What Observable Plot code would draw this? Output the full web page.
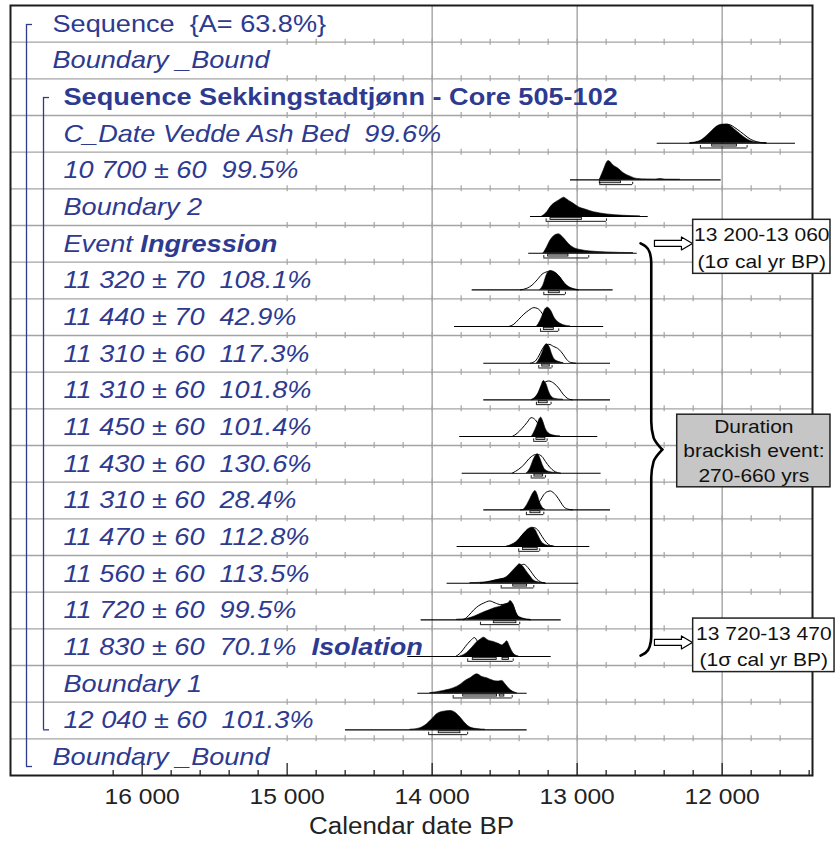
<!DOCTYPE html>
<html>
<head>
<meta charset="utf-8">
<script src="https://cdn.jsdelivr.net/npm/d3@7"></script>
<script src="https://cdn.jsdelivr.net/npm/@observablehq/plot@0.6"></script>
<style>
  body { margin: 0; background: #fff; }
  #chart svg text { white-space: pre; }
</style>
</head>
<body>
<div id="chart"></div>
<script>
// ---- Row labels of the OxCal model (top to bottom) ----
const rowLabels = [
  "Sequence  {A= 63.8%}",
  "Boundary _Bound",
  "Sequence Sekkingstadtjønn - Core 505-102",
  "C_Date Vedde Ash Bed  99.6%",
  "10 700 ± 60  99.5%",
  "Boundary 2",
  "Event",
  "11 320 ± 70  108.1%",
  "11 440 ± 70  42.9%",
  "11 310 ± 60  117.3%",
  "11 310 ± 60  101.8%",
  "11 450 ± 60  101.4%",
  "11 430 ± 60  130.6%",
  "11 310 ± 60  28.4%",
  "11 470 ± 60  112.8%",
  "11 560 ± 60  113.5%",
  "11 720 ± 60  99.5%",
  "11 830 ± 60  70.1%",
  "Boundary 1",
  "12 040 ± 60  101.3%",
  "Boundary _Bound"
];
// nesting level: 0 = outer sequence, 1 = core sequence
const rowLevel = [0, 0, 1, 1, 1, 1, 1, 1, 1, 1, 1, 1, 1, 1, 1, 1, 1, 1, 1, 1, 0];
// event names appended in bold to a row label
const rowTag = ["", "", "", "", "", "", "Ingression", "", "", "", "", "", "", "", "", "", "", "Isolation", "", "", ""];

// ---- Probability distributions: [cal BP, relative probability] ----
const veddePost   = [[12220,0],[12150,0.12],[12105,0.38],[12069,0.65],[12035,0.88],[12000,0.98],[11965,0.99],[11920,0.77],[11874,0.47],[11828,0.21],[11770,0.04],[11690,0]];
const veddePrior  = [[12220,0],[12150,0.12],[12105,0.38],[12069,0.65],[12035,0.88],[12000,0.98],[11962,1.0],[11897,0.74],[11851,0.47],[11805,0.21],[11759,0.07],[11700,0]];
const d10700Post  = [[12844,0],[12817,0.49],[12793,0.93],[12783,1.0],[12748,0.75],[12713,0.58],[12679,0.35],[12632,0.17],[12586,0.05],[12517,0.02],[12460,0.01],[12425,0.04],[12391,0.005],[12288,0]];
const bound2Post  = [[13241,0],[13207,0.23],[13184,0.49],[13161,0.67],[13127,0.84],[13100,0.97],[13092,1.0],[13058,0.84],[13023,0.67],[12989,0.49],[12943,0.37],[12885,0.23],[12793,0.11],[12679,0.04],[12564,0]];
const eventPost   = [[13230,0],[13207,0.32],[13184,0.67],[13161,0.89],[13127,1.0],[13092,0.79],[13058,0.49],[13023,0.28],[12977,0.17],[12908,0.09],[12793,0.04],[12612,0]];
const d11320Prior = [[13391,0],[13345,0.09],[13311,0.25],[13276,0.53],[13242,0.83],[13207,0.96],[13185,1.0],[13173,0.97],[13138,0.83],[13104,0.5],[13069,0.2],[13035,0.05],[12991,0]];
const d11320Post  = [[13253,0],[13230,0.30],[13219,0.56],[13203,0.88],[13180,1.0],[13150,0.91],[13115,0.65],[13081,0.30],[13046,0.11],[13000,0]];
const d11440Prior = [[13472,0],[13437,0.12],[13403,0.38],[13368,0.65],[13334,0.86],[13299,1.0],[13272,0.95],[13242,0.70],[13219,0.38],[13196,0.12],[13173,0]];
const d11440Post  = [[13276,0],[13253,0.30],[13234,0.65],[13219,0.91],[13203,1.0],[13180,0.83],[13157,0.47],[13127,0.21],[13093,0.07],[13046,0]];
const d11310aPrior = [[13322,0],[13288,0.12],[13265,0.38],[13241,0.74],[13219,0.95],[13196,1.0],[13161,0.88],[13127,0.74],[13097,0.47],[13074,0.21],[13046,0.04],[13012,0]];
const d11310aPost  = [[13276,0],[13253,0.30],[13234,0.65],[13219,0.95],[13207,1.0],[13189,0.83],[13173,0.47],[13157,0.21],[13127,0.07],[13093,0]];
const d11310bPrior = [[13311,0],[13288,0.12],[13265,0.38],[13246,0.74],[13219,0.95],[13196,1.0],[13161,0.88],[13127,0.62],[13097,0.30],[13069,0.09],[13035,0]];
const d11310bPost  = [[13311,0],[13288,0.12],[13265,0.38],[13246,0.74],[13230,1.0],[13212,0.83],[13196,0.47],[13180,0.21],[13150,0.05],[13095,0]];
const d11450Prior = [[13448,0],[13414,0.17],[13379,0.44],[13345,0.75],[13317,1.0],[13288,0.88],[13265,0.62],[13239,0.30],[13212,0.08],[13184,0]];
const d11450Post  = [[13311,0],[13288,0.35],[13272,0.65],[13258,0.93],[13248,1.0],[13234,0.79],[13219,0.44],[13196,0.17],[13161,0.05],[13115,0]];
const d11430Prior = [[13448,0],[13403,0.21],[13368,0.44],[13334,0.75],[13299,0.96],[13276,1.0],[13242,0.88],[13219,0.62],[13189,0.32],[13161,0.12],[13115,0]];
const d11430Post  = [[13345,0],[13322,0.26],[13304,0.62],[13288,0.88],[13272,1.0],[13253,0.75],[13238,0.44],[13219,0.17],[13184,0.05],[13138,0]];
const d11310cPrior = [[13391,0],[13322,0.05],[13288,0.2],[13253,0.51],[13230,0.81],[13203,0.97],[13184,1.0],[13173,0.96],[13143,0.74],[13115,0.42],[13092,0.16],[13065,0.04],[13033,0]];
const d11310cPost  = [[13368,0],[13345,0.25],[13322,0.59],[13304,0.86],[13288,1.0],[13272,0.77],[13258,0.42],[13242,0.16],[13219,0]];
const d11470Prior = [[13460,0],[13426,0.17],[13391,0.49],[13357,0.79],[13322,0.96],[13299,1.0],[13272,0.88],[13242,0.53],[13212,0.21],[13184,0.05],[13150,0]];
const d11470Post  = [[13483,0],[13437,0.14],[13403,0.35],[13368,0.67],[13334,0.93],[13311,1.0],[13288,0.88],[13265,0.53],[13242,0.21],[13207,0.05],[13161,0]];
const d11560Prior = [[13667,0],[13575,0.14],[13529,0.23],[13483,0.32],[13437,0.63],[13403,0.88],[13368,1.0],[13341,0.84],[13311,0.53],[13281,0.23],[13253,0.07],[13219,0]];
const d11560Post  = [[13736,0],[13621,0.05],[13552,0.17],[13506,0.23],[13472,0.41],[13437,0.70],[13414,0.88],[13396,1.0],[13373,0.88],[13350,0.63],[13322,0.35],[13299,0.14],[13265,0.04],[13219,0]];
const d11720Prior = [[13782,0],[13748,0.23],[13713,0.53],[13679,0.75],[13644,0.89],[13603,1.0],[13564,0.89],[13529,0.81],[13495,0.84],[13472,0.9],[13460,0.95],[13441,0.78],[13426,0.45],[13410,0.2],[13380,0.07],[13322,0]];
const d11720Post  = [[13828,0],[13759,0.05],[13702,0.19],[13656,0.35],[13610,0.49],[13564,0.63],[13529,0.70],[13495,0.81],[13472,0.88],[13460,1.0],[13441,0.81],[13426,0.49],[13410,0.23],[13380,0.09],[13322,0]];
const d11830Prior = [[13839,0],[13805,0.19],[13770,0.54],[13736,0.84],[13708,1.0],[13686,0.77],[13667,0.5],[13633,0.2],[13598,0.05],[13564,0]];
const d11830Post  = [[13805,0],[13759,0.19],[13724,0.46],[13695,0.72],[13667,0.89],[13644,1.0],[13610,0.84],[13575,0.77],[13541,0.67],[13517,0.59],[13495,0.72],[13483,0.81],[13465,0.54],[13449,0.28],[13433,0.11],[13403,0]];
const bound1Post  = [[14012,0],[13920,0.12],[13851,0.26],[13805,0.44],[13770,0.65],[13736,0.79],[13690,1.0],[13655,0.86],[13621,0.79],[13575,0.65],[13541,0.62],[13517,0.65],[13495,0.47],[13472,0.26],[13441,0.07],[13414,0]];
const d12040Post  = [[14150,0],[14081,0.09],[14035,0.30],[14000,0.56],[13966,0.83],[13920,0.96],[13874,1.0],[13840,0.91],[13805,0.65],[13770,0.33],[13736,0.12],[13690,0.04],[13633,0]];

// baseline extent of each plotted row: [row, from, to] (cal BP)
const baseSpans = [
  [3,12448,11494],[4,13046,12007],[5,13322,12510],[6,13334,12586],[7,13724,12752],
  [8,13846,12817],[9,13644,12770],[10,13644,12770],[11,13810,12858],[12,13793,12835],
  [13,13644,12770],[14,13828,12913],[15,13897,12989],[16,14076,13110],[17,14168,13179],
  [18,14099,13345],[19,14598,13345]
];

// 1σ (68.2%) results stated in the callouts
const ingressionRange = [13200, 13060];
const isolationRange  = [13720, 13470];
const brackishDuration = [270, 660];

// 68.2% ranges: [row, from, to]
const ranges68 = [
  [3,12069,11897],[4,12844,12697],[5,13184,12966],[6,ingressionRange[0],ingressionRange[1]],
  [7,13196,13120],[8,13230,13161],[9,13241,13189],[10,13265,13203],[11,13281,13219],
  [12,13295,13234],[13,13322,13253],[14,13373,13272],[15,13441,13345],[16,13575,13419],
  [17,isolationRange[0],13555],[17,13515,isolationRange[1]],
  [18,13786,13552],[18,13534,13502],[19,13955,13805]
];
// 95.4% ranges: [row, from, to]
const ranges95 = [
  [3,12150,11828],[4,12844,12617],[5,13214,12798],[6,13230,12920],[7,13230,13081],
  [8,13253,13127],[9,13265,13173],[10,13281,13180],[11,13300,13207],[12,13317,13219],
  [13,13350,13230],[14,13403,13258],[15,13524,13299],[16,13667,13396],[17,13755,13441],
  [18,13855,13448],[19,14024,13755]
];

// axis
const majorTicks = [16000, 15000, 14000, 13000, 12000];
const gridYears = [14000, 13000, 12000];

// ---- layout ----
const W = 835, H = 849;
const M = {top: 5, right: 23, bottom: 74, left: 10};
const X_DOMAIN = [16908, 11377];
const ROWS = rowLabels.length;
const yrPerPx = (X_DOMAIN[0] - X_DOMAIN[1]) / (W - M.left - M.right);
const rowPerPx = ROWS / (H - M.top - M.bottom);
const BASE = 0.755;   // distribution baseline inside a row
const PEAK = 0.515;   // height of a normalised peak, in rows
const BLUE = "#2d3a90";
const GRID = "#a4a4a4";
const TEXT_STRETCH = 1.13;  // the lettering is a horizontally widened sans

const dists = [
  {row: 3, post: veddePost, prior: veddePrior},
  {row: 4, post: d10700Post},
  {row: 5, post: bound2Post},
  {row: 6, post: eventPost},
  {row: 7, post: d11320Post, prior: d11320Prior},
  {row: 8, post: d11440Post, prior: d11440Prior},
  {row: 9, post: d11310aPost, prior: d11310aPrior},
  {row: 10, post: d11310bPost, prior: d11310bPrior},
  {row: 11, post: d11450Post, prior: d11450Prior},
  {row: 12, post: d11430Post, prior: d11430Prior},
  {row: 13, post: d11310cPost, prior: d11310cPrior},
  {row: 14, post: d11470Post, prior: d11470Prior},
  {row: 15, post: d11560Post, prior: d11560Prior},
  {row: 16, post: d11720Post, prior: d11720Prior},
  {row: 17, post: d11830Post, prior: d11830Prior},
  {row: 18, post: bound1Post},
  {row: 19, post: d12040Post}
];
const postPts = dists.flatMap(d => d.post.map(([year, p]) => ({row: d.row, year, p})));
const priorPts = dists.filter(d => d.prior).flatMap(d => d.prior.map(([year, p]) => ({row: d.row, year, p})));

const rows = rowLabels.map((label, row) => ({row, label, level: rowLevel[row], tag: rowTag[row]}));
const outerUpright = rows.filter(d => d.level === 0 && d.label.startsWith("Sequence"));
const outerItalic  = rows.filter(d => d.level === 0 && !d.label.startsWith("Sequence"));
const innerBold    = rows.filter(d => d.level === 1 && d.label.startsWith("Sequence"));
const innerItalic  = rows.filter(d => d.level === 1 && !d.label.startsWith("Sequence"));

const fmtYear = d => d3.format(",")(d).replace(/,/g, " ");

// grid crosses every 200 years on the row separators
const gridTicks = d3.range(15000, 11500, -200).flatMap(year => d3.range(1, ROWS).map(y => ({year, y})));
const axisTicks = d3.range(16200, 11300, -200).map(year => ({year, major: year % 1000 === 0}));

// sequence brackets on the left
const seqBrackets = [
  {dx: 16, y1: 0.518, y2: ROWS - 1 + BASE},
  {dx: 33, y1: 2.51, y2: ROWS - 2 + BASE}
];

// curly brace spanning the brackish interval
function bracePoints(xLine, yTop, yBot) {
  const px = v => v * yrPerPx, py = v => v * rowPerPx;
  const yMid = (yTop + yBot) / 2;
  const top = [
    [xLine + px(10.7), yTop], [xLine + px(5.5), yTop + py(3)], [xLine + px(1.6), yTop + py(9)],
    [xLine, yTop + py(19)], [xLine, yMid - py(28)], [xLine - px(2.3), yMid - py(12)], [xLine - px(11), yMid]
  ].map(([x, y]) => ({x, y, half: "top"}));
  const bottom = [
    [xLine - px(11), yMid], [xLine - px(2.3), yMid + py(12)], [xLine, yMid + py(28)],
    [xLine, yBot - py(19)], [xLine + px(1.6), yBot - py(9)], [xLine + px(5.5), yBot - py(3)], [xLine + px(10.7), yBot]
  ].map(([x, y]) => ({x, y, half: "bottom"}));
  return top.concat(bottom);
}
const bracePts = bracePoints(12489, 6.49, 17.73);

// hollow block arrows pointing at the callouts
function arrowPoints(xStart, xEnd, y, id) {
  const px = v => v * yrPerPx, py = v => v * rowPerPx;
  const xh = xEnd + px(11);
  return [
    [xStart, y - py(3)], [xh, y - py(3)], [xh, y - py(6.5)], [xEnd, y],
    [xh, y + py(6.5)], [xh, y + py(3)], [xStart, y + py(3)], [xStart, y - py(3)]
  ].map(([x, yy]) => ({x, y: yy, id}));
}
const arrowPts = arrowPoints(12467, 12205, 6.49, "a").concat(arrowPoints(12467, 12205, 17.37, "b"));

const callouts = [
  {x1: 12200, x2: 11253, y1: 5.845, y2: 7.318, fill: "white",
   lines: [`${fmtYear(ingressionRange[0])}-${fmtYear(ingressionRange[1])}`, "(1σ cal yr BP)"], ys: [6.27, 6.99]},
  {x1: 12200, x2: 11225, y1: 16.72, y2: 18.18, fill: "white",
   lines: [`${fmtYear(isolationRange[0])}-${fmtYear(isolationRange[1])}`, "(1σ cal yr BP)"], ys: [17.15, 17.86]},
  {x1: 12310, x2: 11253, y1: 11.16, y2: 13.14, fill: "#c6c6c6",
   lines: ["Duration", "brackish event:", `${brackishDuration[0]}-${brackishDuration[1]} yrs`], ys: [11.5, 12.15, 12.82]}
];
const calloutText = callouts.flatMap(c => c.lines.map((text, i) => ({text, x: (c.x1 + c.x2) / 2, y: c.ys[i]})));

const plot = Plot.plot({
  width: W, height: H,
  marginTop: M.top, marginRight: M.right, marginBottom: M.bottom, marginLeft: M.left,
  x: {domain: X_DOMAIN, axis: null},
  y: {domain: [0, ROWS], reverse: true, axis: null},
  style: {fontFamily: "'Liberation Sans', Arial, sans-serif", background: "white", overflow: "visible"},
  marks: [
    // grid
    Plot.ruleY(d3.range(1, ROWS), {stroke: GRID, strokeWidth: 1.4}),
    Plot.ruleX(gridYears, {stroke: GRID, strokeWidth: 1.4}),
    Plot.ruleX(gridTicks, {x: "year", y1: d => d.y - 3 * rowPerPx, y2: d => d.y + 3 * rowPerPx, stroke: GRID, strokeWidth: 1.2}),
    // axis ticks (inside the frame)
    Plot.ruleX(axisTicks, {x: "year", y1: ROWS, y2: d => ROWS - (d.major ? 12 : 5) * rowPerPx, stroke: "#222", strokeWidth: 1.3}),
    Plot.frame({stroke: "#1c1c1c", strokeWidth: 2}),
    // distributions
    Plot.ruleY(baseSpans, {y: d => d[0] + BASE, x1: d => d[1], x2: d => d[2], stroke: "#000", strokeWidth: 1.1}),
    Plot.areaY(priorPts, {x: "year", y1: d => d.row + BASE, y2: d => d.row + BASE - d.p * PEAK, z: "row", fill: "white", curve: "monotone-x"}),
    Plot.line(priorPts, {x: "year", y: d => d.row + BASE - d.p * PEAK, z: "row", stroke: "#000", strokeWidth: 1, curve: "monotone-x"}),
    Plot.areaY(postPts, {x: "year", y1: d => d.row + BASE, y2: d => d.row + BASE - d.p * PEAK, z: "row", fill: "#000", stroke: "#000", strokeWidth: 0.6, curve: "monotone-x"}),
    // ranges
    Plot.rect(ranges68, {x1: d => d[1], x2: d => d[2], y1: d => d[0] + BASE + 1.3 * rowPerPx, y2: d => d[0] + BASE + 3.4 * rowPerPx, fill: "#bdbdbd", stroke: "#000", strokeWidth: 0.8}),
    Plot.ruleY(ranges95, {y: d => d[0] + BASE + 4.8 * rowPerPx, x1: d => d[1], x2: d => d[2], stroke: "#000", strokeWidth: 0.9}),
    Plot.ruleX(ranges95.flatMap(d => [[d[0], d[1]], [d[0], d[2]]]), {x: d => d[1], y1: d => d[0] + BASE + 4.8 * rowPerPx, y2: d => d[0] + BASE + 2.4 * rowPerPx, stroke: "#000", strokeWidth: 0.9}),
    // sequence brackets
    ...seqBrackets.flatMap(b => [
      Plot.ruleX([b], {x: () => X_DOMAIN[0], y1: "y1", y2: "y2", dx: b.dx, stroke: BLUE, strokeWidth: 1.3}),
      Plot.ruleY([b.y1, b.y2], {y: d => d, x1: () => X_DOMAIN[0], x2: () => X_DOMAIN[0] - 6 * yrPerPx, dx: b.dx, stroke: BLUE, strokeWidth: 1.3})
    ]),
    // row labels
    Plot.text(outerUpright, {y: d => d.row + 0.5, text: "label", frameAnchor: "left", dx: 42, textAnchor: "start", fill: BLUE, fontSize: 24}),
    Plot.text(outerItalic, {y: d => d.row + 0.5, text: "label", frameAnchor: "left", dx: 42, textAnchor: "start", fill: BLUE, fontSize: 24, fontStyle: "italic"}),
    Plot.text(innerBold, {y: d => d.row + 0.5, text: "label", frameAnchor: "left", dx: 53, textAnchor: "start", fill: BLUE, fontSize: 24, fontWeight: "bold"}),
    Plot.text(innerItalic, {y: d => d.row + 0.5, text: "label", frameAnchor: "left", dx: 53, textAnchor: "start", fill: BLUE, fontSize: 24, fontStyle: "italic", className: "inner-labels"}),
    // brace, arrows and callouts
    Plot.line(bracePts, {x: "x", y: "y", z: "half", curve: "monotone-y", stroke: "#000", strokeWidth: 2.6}),
    Plot.line(arrowPts, {x: "x", y: "y", z: "id", fill: "white", stroke: "#000", strokeWidth: 1.2}),
    Plot.rect(callouts, {x1: "x1", x2: "x2", y1: "y1", y2: "y2", fill: "fill", stroke: "#222", strokeWidth: 1.5}),
    Plot.text(calloutText, {x: "x", y: "y", text: "text", fontSize: 18.6, fill: "#111"}),
    // x axis labels
    Plot.text(majorTicks, {x: d => d, frameAnchor: "bottom", dy: 28, text: fmtYear, fontSize: 21.8, fill: "#222"}),
    Plot.text(["Calendar date BP"], {frameAnchor: "bottom", dy: 58, fontSize: 23, fill: "#222"})
  ]
});

// bold event names after their row labels
d3.select(plot).selectAll("g.inner-labels text").each(function(i) {
  const d = innerItalic[i];
  if (d && d.tag) d3.select(this).append("tspan").attr("font-weight", "bold").text((d.row === 6 ? " " : "  ") + d.tag);
});

// widen the lettering about each text's own anchor point
d3.select(plot).selectAll("text").each(function() {
  const el = this;
  const x = el.getAttribute("x"), y = el.getAttribute("y");
  const t = el.getAttribute("transform") || "";
  if (x !== null || y !== null) {
    const xx = +x || 0, yy = +y || 0;
    el.setAttribute("transform", `${t} translate(${xx},${yy}) scale(${TEXT_STRETCH},1) translate(${-xx},${-yy})`.trim());
  } else {
    el.setAttribute("transform", `${t} scale(${TEXT_STRETCH},1)`.trim());
  }
});

document.getElementById("chart").appendChild(plot);
</script>
</body>
</html>
